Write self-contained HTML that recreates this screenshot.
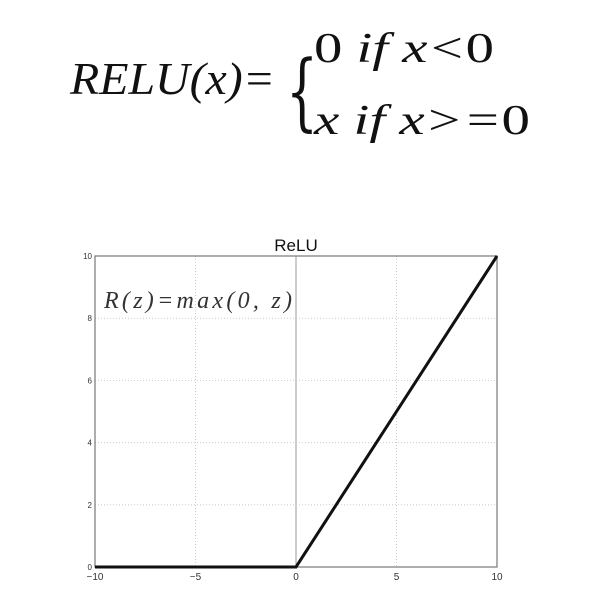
<!DOCTYPE html>
<html><head><meta charset="utf-8"><style>
body{margin:0;background:#fff;width:602px;height:592px;overflow:hidden}
svg{display:block}
</style></head><body>
<svg width="602" height="592" xmlns="http://www.w3.org/2000/svg">
<g font-family="Liberation Serif, serif" fill="#111">
<text x="70" y="94" font-size="46" font-style="italic" textLength="205" lengthAdjust="spacingAndGlyphs">RELU(x)=</text>
<text x="286" y="120" font-size="84" font-weight="100" style="font-family:'DejaVu Serif',serif" transform="translate(286,0) scale(0.6,1) translate(-286,0)">{</text>
<text x="314" y="62" font-size="42" font-style="italic" textLength="180" lengthAdjust="spacingAndGlyphs"><tspan font-style="normal">0</tspan> if x&lt;<tspan font-style="normal">0</tspan></text>
<text x="314" y="134" font-size="42" font-style="italic" textLength="216" lengthAdjust="spacingAndGlyphs">x if x&gt;=<tspan font-style="normal">0</tspan></text>
</g>
<g id="chart"></g>
</svg>
<script>
const xTicks=[-10,-5,0,5,10];
const yTicks=[0,2,4,6,8,10];
const xs=[-10,0,10];
const ys=[0,0,10];
const L=95,R=497,T=256,B=567;
const sx=v=>L+(v+10)/20*(R-L);
const sy=v=>B-v/10*(B-T);
const NS="http://www.w3.org/2000/svg";
const g=document.getElementById('chart');
function mk(t,a){const e=document.createElementNS(NS,t);for(const k in a)e.setAttribute(k,a[k]);g.appendChild(e);return e;}
xTicks.forEach(v=>{
 const l=mk('line',{x1:sx(v),x2:sx(v),y1:T,y2:B,stroke:v===0?'#999':'#ccc','stroke-dasharray':v===0?'':'1,2','stroke-width':1});
 
 
 const t=mk('text',{x:sx(v),y:B+13,'font-size':10,'text-anchor':'middle','font-family':'Liberation Sans, sans-serif',fill:'#333'});
 t.textContent=v<0?'\u2212'+(-v):v;
 
 
});
yTicks.forEach(v=>{
 const l=mk('line',{x1:L,x2:R,y1:sy(v),y2:sy(v),stroke:'#ccc','stroke-dasharray':'1,2','stroke-width':1});
 
 
 const t=mk('text',{x:L-3,y:sy(v)+3,'font-size':8,'text-anchor':'end','font-family':'Liberation Sans, sans-serif',fill:'#333'});
 t.textContent=v;
 
 
});
const fr=mk('rect',{x:L,y:T,width:R-L,height:B-T,fill:'none',stroke:'#777','stroke-width':1.2});


const p=mk('polyline',{points:xs.map((x,i)=>sx(x)+','+sy(ys[i])).join(' '),fill:'none',stroke:'#111','stroke-width':3});


const ti=mk('text',{x:(L+R)/2,y:T-5,'font-size':17,'text-anchor':'middle','font-family':'Liberation Sans, sans-serif',fill:'#111'});
ti.textContent='ReLU';


const an=mk('text',{x:104,y:308,'font-size':24,'font-family':'Liberation Serif, serif','font-style':'italic',fill:'#333',textLength:188,lengthAdjust:'spacing'});
an.textContent='R(z)=max(0,  z)';


</script>
</body></html>
